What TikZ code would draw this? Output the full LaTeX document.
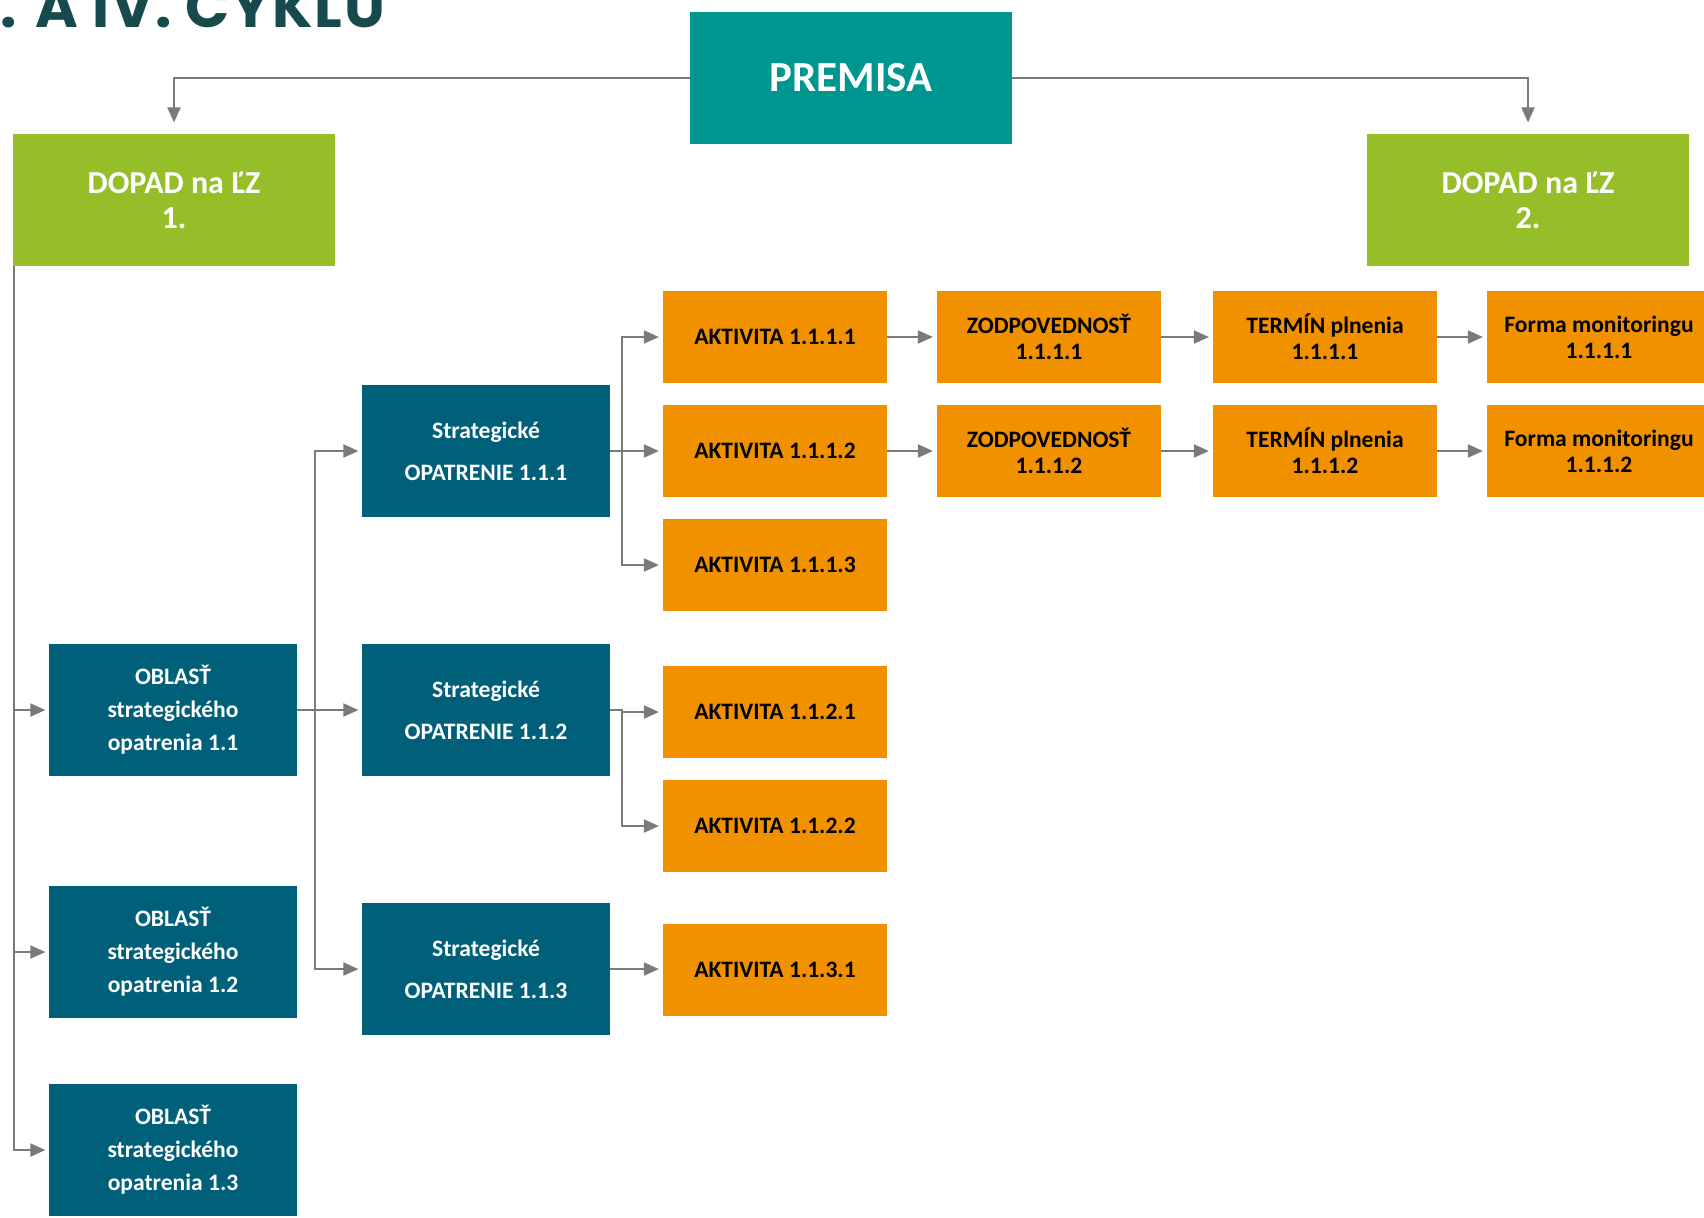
\documentclass[tikz,border=0pt]{standalone}
\usepackage{fontspec}
\setmainfont{Carlito}
\newfontfamily\titlefont{Poppins}[LetterSpace=3]
\usetikzlibrary{arrows.meta}

\definecolor{premisacol}{RGB}{0,150,144}
\definecolor{dopadcol}{RGB}{150,190,40}
\definecolor{modracol}{RGB}{0,96,122}
\definecolor{oranzcol}{RGB}{242,145,0}
\definecolor{titulcol}{RGB}{23,74,77}
\definecolor{sipkacol}{RGB}{122,122,122}

\tikzset{
  box/.style={inner sep=0pt, outer sep=0pt, align=center},
  premisabox/.style={box, fill=premisacol, text=white, minimum width=3.22cm, minimum height=1.32cm,
    font=\fontsize{12.2}{14}\selectfont\bfseries},
  dopadbox/.style={box, fill=dopadcol, text=white, minimum width=3.22cm, minimum height=1.31cm,
    font=\fontsize{9.1}{10}\selectfont\bfseries},
  oblastbox/.style={box, fill=modracol, text=white, minimum width=2.47cm, minimum height=1.31cm,
    font=\fontsize{6.7}{9.4}\selectfont\bfseries},
  opatrbox/.style={oblastbox, minimum height=1.32cm, font=\fontsize{6.7}{11.9}\selectfont\bfseries},
  aktbox/.style={box, fill=oranzcol, text=black, minimum width=2.24cm, minimum height=0.92cm,
    font=\fontsize{6.7}{7.4}\selectfont\bfseries},
  conn/.style={draw=sipkacol, line width=0.6pt, -{Triangle[length=4.3pt,width=3.7pt]}, shorten >=0.4mm},
}

\begin{document}
\begin{tikzpicture}[x=0.01cm,y=-0.01cm]
    \useasboundingbox (0,0) rectangle (1704,1217);
    \clip (0,0) rectangle (1704,1217);
    \fill[white] (0,0) rectangle (1704,1217);

    % nadpis
    \node[anchor=base west, inner sep=0pt, text=titulcol, font=\titlefont\fontsize{16.5}{20}\selectfont\bfseries]
      (titul) at (0,27) {. A IV. CYKLU};

    % premisa a dopady
    \node[premisabox] (premisa) at (851,78) {PREMISA};
    \node[dopadbox] (dopad1) at (174,200) {DOPAD na ĽZ\\1.};
    \node[dopadbox] (dopad2) at (1528,200) {DOPAD na ĽZ\\2.};
    \draw[conn, shorten >=1.2mm] (premisa.west) -| (dopad1.north);
    \draw[conn, shorten >=1.2mm] (premisa.east) -| (dopad2.north);

    % oblasti
    \node[oblastbox] (oblast11) at (173,710) {OBLASŤ\\strategického\\opatrenia 1.1};
    \node[oblastbox] (oblast12) at (173,952) {OBLASŤ\\strategického\\opatrenia 1.2};
    \node[oblastbox] (oblast13) at (173,1150) {OBLASŤ\\strategického\\opatrenia 1.3};
    \coordinate (spine) at (14,266);
    \foreach \o in {oblast11,oblast12,oblast13}
      \draw[conn] (spine) |- (\o.west);

    % strategicke opatrenia
    \node[opatrbox] (so111) at (486,451) {Strategické\\OPATRENIE 1.1.1};
    \node[opatrbox] (so112) at (486,710) {Strategické\\OPATRENIE 1.1.2};
    \node[opatrbox] (so113) at (486,969) {Strategické\\OPATRENIE 1.1.3};
    \coordinate (fork1) at (315,710);
    \foreach \s in {so111,so112,so113}
      \draw[conn] (oblast11.east) -- (fork1) |- (\s.west);

    % aktivity
    \node[aktbox] (akt1111) at (775,337) {AKTIVITA 1.1.1.1};
    \node[aktbox] (akt1112) at (775,451) {AKTIVITA 1.1.1.2};
    \node[aktbox] (akt1113) at (775,565) {AKTIVITA 1.1.1.3};
    \node[aktbox] (akt1121) at (775,712) {AKTIVITA 1.1.2.1};
    \node[aktbox] (akt1122) at (775,826) {AKTIVITA 1.1.2.2};
    \node[aktbox] (akt1131) at (775,970) {AKTIVITA 1.1.3.1};
    \coordinate (fork2) at (622,451);
    \coordinate (fork3) at (622,710);
    \foreach \a in {akt1111,akt1112,akt1113}
      \draw[conn] (so111.east) -- (fork2) |- (\a.west);
    \foreach \a in {akt1121,akt1122}
      \draw[conn] (so112.east) -- (fork3) |- (\a.west);
    \draw[conn] (so113.east) -- (so113.east -| akt1131.west);

    % zodpovednost, termin, monitoring
    \foreach \r/\y in {1/337,2/451} {
      \node[aktbox] (zod\r) at (1049,\y) {ZODPOVEDNOSŤ\\1.1.1.\r};
      \node[aktbox] (term\r) at (1325,\y) {TERMÍN plnenia\\1.1.1.\r};
      \node[aktbox] (forma\r) at (1599,\y) {Forma monitoringu\\1.1.1.\r};
      \draw[conn] (akt111\r.east) -- (zod\r.west);
      \draw[conn] (zod\r.east) -- (term\r.west);
      \draw[conn] (term\r.east) -- (forma\r.west);
    }
\end{tikzpicture}
\end{document}
